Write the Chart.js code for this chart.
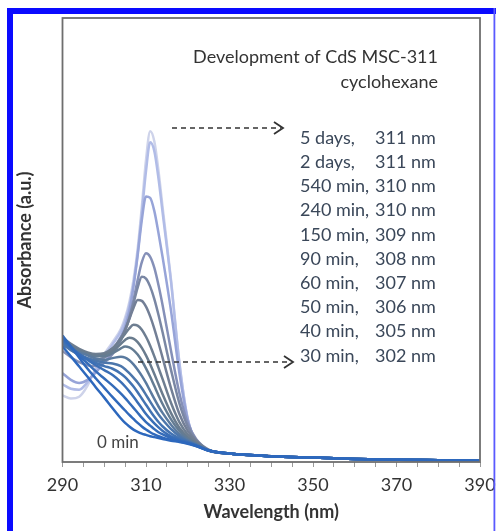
<!DOCTYPE html>
<html>
<head>
<meta charset="utf-8">
<script src="https://cdn.jsdelivr.net/npm/chart.js@4.4.1/dist/chart.umd.min.js"></script>
<style>
  html, body { margin: 0; padding: 0; background: #fff; }
  #wrap { width: 496px; height: 531px; }
</style>
</head>
<body>
<div id="wrap"><canvas id="absChart" width="496" height="531"></canvas></div>
<script>
// wavelength grid (nm) shared by every spectrum
const wavelengths = [290, 292, 294, 296, 298, 300, 302, 304, 305, 306, 307, 308, 309, 310, 311, 312, 313, 314, 316, 318, 320, 322, 325, 330, 340, 350, 360, 370, 380, 390];

// absorbance (a.u., 0..1 of plot height)
const abs0min   = [.26, .238, .215, .192, .168, .145, .121, .098, .088, .08, .073, .068, .064, .061, .058, .056, .054, .052, .048, .045, .041, .036, .026, .019, .013, .01, .007, .005, .004, .003];
const abs5min   = [.285, .26, .235, .21, .188, .167, .146, .126, .116, .106, .097, .088, .08, .073, .067, .062, .058, .055, .05, .046, .042, .036, .026, .019, .013, .01, .007, .005, .004, .003];
const abs10min  = [.28, .26, .24, .222, .204, .188, .172, .154, .144, .133, .122, .111, .10, .09, .082, .074, .067, .062, .054, .048, .043, .037, .026, .019, .013, .01, .007, .005, .004, .003];
const abs15min  = [.275, .258, .243, .23, .218, .207, .196, .18, .17, .159, .147, .134, .121, .108, .097, .087, .078, .07, .058, .05, .044, .037, .026, .019, .013, .01, .007, .005, .004, .003];
const abs20min  = [.27, .255, .242, .232, .223, .216, .21, .199, .191, .181, .17, .157, .143, .129, .115, .102, .09, .08, .064, .053, .045, .038, .026, .019, .013, .01, .007, .005, .004, .003];
const abs25min  = [.265, .252, .242, .234, .228, .224, .222, .216, .209, .2, .19, .179, .166, .151, .136, .121, .107, .095, .074, .058, .047, .039, .026, .019, .013, .01, .007, .005, .004, .003];
const abs30min  = [.265, .255, .247, .24, .233, .23, .234, .237, .235, .229, .22, .208, .194, .178, .16, .142, .125, .11, .084, .063, .05, .04, .026, .019, .013, .01, .007, .005, .004, .003];
const abs40min  = [.27, .26, .25, .243, .238, .238, .245, .256, .26, .258, .252, .242, .228, .211, .192, .171, .15, .13, .096, .07, .053, .041, .026, .019, .013, .01, .007, .005, .004, .003];
const abs50min  = [.275, .262, .252, .245, .24, .242, .25, .266, .275, .28, .278, .27, .257, .24, .22, .198, .175, .152, .11, .077, .056, .042, .026, .019, .013, .01, .007, .005, .004, .003];
const abs60min  = [.28, .266, .255, .247, .243, .245, .256, .276, .289, .301, .309, .307, .298, .282, .262, .238, .212, .186, .133, .09, .062, .045, .027, .019, .013, .01, .007, .005, .004, .003];
const abs90min  = [.278, .264, .252, .244, .24, .243, .256, .28, .298, .322, .347, .365, .363, .35, .328, .30, .268, .234, .166, .108, .07, .048, .027, .019, .013, .01, .007, .005, .004, .003];
const abs150min = [.268, .253, .241, .233, .23, .235, .25, .276, .296, .323, .357, .393, .417, .413, .395, .367, .331, .291, .207, .132, .08, .05, .027, .019, .013, .01, .007, .005, .004, .003];
const abs240min = [.25, .236, .225, .218, .216, .224, .243, .275, .298, .327, .365, .41, .45, .47, .462, .437, .398, .352, .25, .155, .088, .052, .028, .019, .013, .01, .007, .005, .004, .003];
const abs540min = [.20, .185, .178, .185, .202, .224, .25, .283, .305, .34, .395, .465, .545, .598, .595, .565, .515, .46, .34, .20, .095, .048, .027, .019, .013, .01, .007, .005, .004, .003];
const abs2days  = [.175, .165, .163, .18, .208, .238, .265, .295, .318, .352, .40, .47, .56, .655, .72, .70, .638, .56, .405, .222, .097, .046, .026, .019, .013, .01, .007, .005, .004, .003];
const abs5days  = [.15, .143, .147, .172, .212, .243, .27, .30, .325, .36, .41, .48, .575, .68, .745, .722, .655, .572, .41, .225, .097, .045, .025, .019, .013, .01, .007, .005, .004, .003];

const spectra = [abs0min, abs5min, abs10min, abs15min, abs20min, abs25min, abs30min, abs40min,
                 abs50min, abs60min, abs90min, abs150min, abs240min, abs540min, abs2days, abs5days];
const timeLabels = ['0 min', '5 min', '10 min', '15 min', '20 min', '25 min', '30 min', '40 min',
                    '50 min', '60 min', '90 min', '150 min', '240 min', '540 min', '2 days', '5 days'];
// peak positions written in the figure (null = not listed)
const peakNm = [null, null, null, null, null, null, 302, 305, 306, 307, 308, 309, 310, 310, 311, 311];
const lineColors = ['#2d68bd', '#3069bb', '#356cb9', '#3b6fb6', '#4373b2', '#4c76ab', '#5a7a9f', '#647c93',
                    '#6a7c8e', '#6e7e91', '#737f96', '#7a87a4', '#8590b8', '#97a4d8', '#b1bce7', '#ced3ea'];

const FONT = 'Lato, "Open Sans", sans-serif';

const datasets = spectra.map((vals, i) => ({
  label: timeLabels[i],
  data: wavelengths.map((w, j) => ({ x: w, y: vals[j] })),
  borderColor: lineColors[i],
  borderWidth: 2.5,
  pointRadius: 0,
  cubicInterpolationMode: 'monotone'
}));

function dashedArrow(ctx, x1, x2, y) {
  ctx.save();
  ctx.strokeStyle = '#333';
  ctx.lineWidth = 1.6;
  ctx.setLineDash([5, 4]);
  ctx.beginPath();
  ctx.moveTo(x1, y);
  ctx.lineTo(x2 - 2, y);
  ctx.stroke();
  ctx.setLineDash([]);
  ctx.lineWidth = 1.8;
  ctx.beginPath();
  ctx.moveTo(x2 - 9, y - 6);
  ctx.lineTo(x2, y);
  ctx.lineTo(x2 - 9, y + 6);
  ctx.stroke();
  ctx.restore();
}

const decor = {
  id: 'decor',
  beforeDraw(chart) {
    const ctx = chart.ctx;
    ctx.save();
    ctx.fillStyle = '#fff';
    ctx.fillRect(0, 0, chart.width, chart.height);
    ctx.restore();
  },
  afterDatasetsDraw(chart) {
    const ctx = chart.ctx;
    const a = chart.chartArea;
    ctx.save();
    // plot frame
    ctx.strokeStyle = '#6e6e6e';
    ctx.lineWidth = 1.8;
    ctx.strokeRect(a.left, a.top, a.right - a.left, a.bottom - a.top);

    // heading
    ctx.fillStyle = '#333';
    ctx.font = '18px ' + FONT;
    ctx.textBaseline = 'middle';
    ctx.textAlign = 'right';
    ctx.fillText('Development of CdS MSC-311', 438, 57);
    ctx.fillText('cyclohexane', 438, 82);

    // list of times and peak positions, latest first
    ctx.textAlign = 'left';
    ctx.fillStyle = '#3a4759';
    let row = 0;
    for (let i = spectra.length - 1; i >= 0; i--) {
      if (peakNm[i] === null) continue;
      const y = 138 + row * 24.2;
      ctx.fillText(timeLabels[i] + ',', 300, y);
      ctx.fillText(peakNm[i] + ' nm', 375, y);
      row++;
    }

    ctx.fillStyle = '#444';
    ctx.font = '17px ' + FONT;
    ctx.fillText(timeLabels[0], 97, 443);

    dashedArrow(ctx, 172, 283, 128);
    dashedArrow(ctx, 138, 293, 362);
    ctx.restore();
  },
  afterDraw(chart) {
    const ctx = chart.ctx;
    ctx.save();
    ctx.fillStyle = '#0a0aff';
    ctx.fillRect(7, 8, 6, chart.height - 8);
    ctx.fillRect(7, 8, chart.width - 7, 6);
    ctx.fillStyle = '#5a5aff';
    ctx.fillRect(493.5, 8, 1.8, chart.height - 8);
    ctx.restore();
  }
};

const ctx = document.getElementById('absChart').getContext('2d');
new Chart(ctx, {
  type: 'line',
  data: { datasets: datasets },
  plugins: [decor],
  options: {
    responsive: false,
    animation: false,
    layout: { padding: { left: 0, top: 18, right: 16, bottom: 0 } },
    plugins: { legend: { display: false }, tooltip: { enabled: false } },
    scales: {
      x: {
        type: 'linear',
        min: 290,
        max: 390,
        afterFit(scale) { scale.height = 69; scale.paddingLeft = 0; scale.paddingRight = 0; },
        grid: { drawOnChartArea: false, drawTicks: true, tickLength: 5, color: '#9a9a9a' },
        border: { display: false },
        ticks: {
          stepSize: 5,
          autoSkip: false,
          maxRotation: 0,
          padding: 7,
          color: '#333',
          font: { family: FONT, size: 18 },
          callback: (v) => ((v - 290) % 20 === 0 ? String(v) : '')
        },
        title: {
          display: true,
          text: 'Wavelength (nm)',
          color: '#333',
          font: { family: FONT, size: 18, weight: 'bold' },
          padding: { top: 0, bottom: 8 }
        }
      },
      y: {
        min: 0,
        max: 1,
        afterFit(scale) { scale.width = 62.5; scale.paddingTop = 0; scale.paddingBottom = 0; },
        grid: { display: false },
        border: { display: false },
        ticks: { display: false },
        title: {
          display: true,
          text: 'Absorbance (a.u.)',
          color: '#333',
          font: { family: FONT, size: 18, weight: 'bold' },
          padding: { top: 14, bottom: 0 }
        }
      }
    }
  }
});
</script>
</body>
</html>
